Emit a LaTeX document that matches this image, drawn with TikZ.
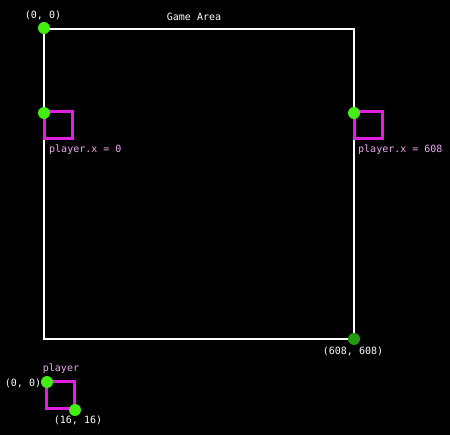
\documentclass[tikz,border=0pt]{standalone}
\usepackage{fontspec}
\setmonofont{DejaVu Sans Mono}
\begin{document}
\begin{tikzpicture}[x=1pt,y=-1pt,
  area/.style={draw=white,line width=2.8pt},
  psq/.style={draw=magpink,line width=3pt},
  dot/.style={circle,fill=dotgreen,minimum size=12pt,inner sep=0pt},
  darkdot/.style={circle,fill=dotdark,minimum size=12pt,inner sep=0pt},
  wlab/.style={text=white,font=\ttfamily\fontsize{10}{10}\selectfont,inner sep=0pt},
  plab/.style={text=pinklab,font=\ttfamily\fontsize{10}{10}\selectfont,inner sep=0pt}]
\definecolor{magpink}{HTML}{E020E0}
\definecolor{dotgreen}{HTML}{44EE11}
\definecolor{dotdark}{HTML}{229A10}
\definecolor{pinklab}{HTML}{F0A8F0}
\fill[black] (0,0) rectangle (450,435);
\useasboundingbox (0,0) rectangle (450,435);
% game area
\draw[area] (44,29) rectangle (354,339);
\node[wlab] (title) at (194,17) {Game Area};
% players in area
\draw[psq] (44,112) rectangle (72,139);
\draw[psq] (354,112) rectangle (382,139);
\node[plab,anchor=west] (lx) at (49,150) {player.x = 0};
\node[plab,anchor=west] (rx) at (358,150) {player.x = 608};
% dots
\node[dot] (o) at (44,28) {};
\node[wlab] (olab) at (43,15) {(0, 0)};
\node[dot] (l) at (44,113) {};
\node[dot] (r) at (354,113) {};
\node[darkdot] (br) at (354,339) {};
\node[wlab] (brlab) at (353,351) {(608, 608)};
% legend player
\draw[psq] (46,382) rectangle (74,409);
\node[plab] (plabel) at (61,369) {player};
\node[dot] (p0) at (47,382) {};
\node[dot] (p1) at (75,410) {};
\node[wlab] (p0lab) at (23,383) {(0, 0)};
\node[wlab] (p1lab) at (78,420) {(16, 16)};
\end{tikzpicture}
\end{document}
